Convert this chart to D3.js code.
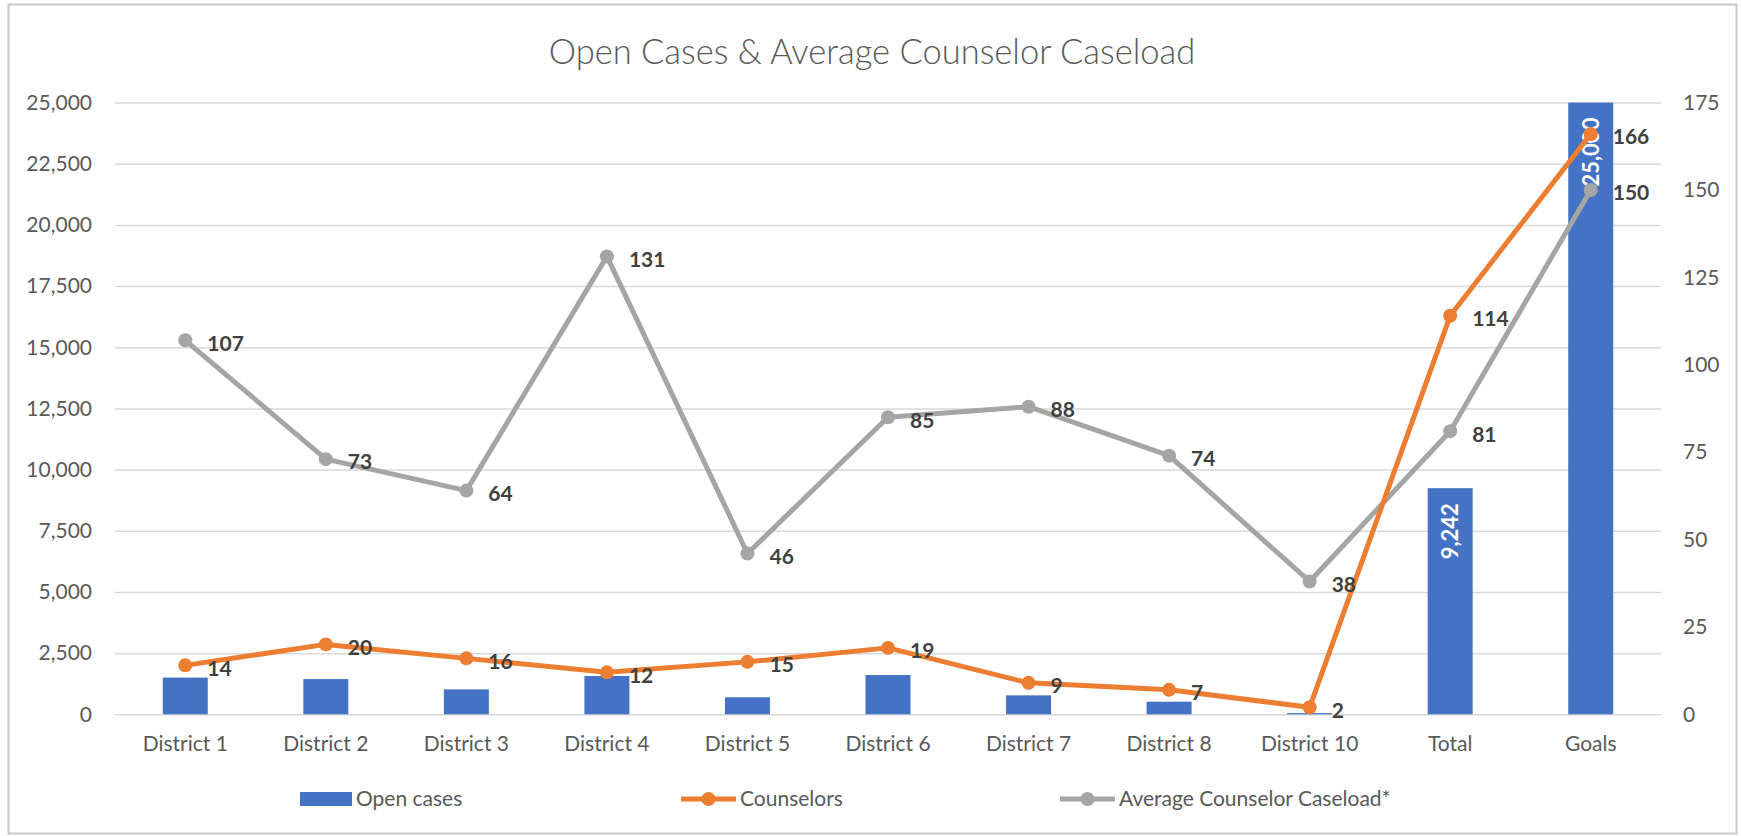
<!DOCTYPE html>
<html>
<head>
<meta charset="utf-8">
<script src="https://cdn.jsdelivr.net/npm/d3@7"></script>
<style>
  body { margin: 0; background: #fff; }
  text { font-family: Lato, "Open Sans", sans-serif; }
</style>
</head>
<body>
<script>
// chart data
var categories = ["District 1", "District 2", "District 3", "District 4", "District 5", "District 6", "District 7", "District 8", "District 10", "Total", "Goals"];
var openCases = [1500, 1440, 1020, 1565, 695, 1605, 775, 515, 50, 9242, 25000];
var counselors = [14, 20, 16, 12, 15, 19, 9, 7, 2, 114, 166];
var caseload = [107, 73, 64, 131, 46, 85, 88, 74, 38, 81, 150];
var leftTicks = [0, 2500, 5000, 7500, 10000, 12500, 15000, 17500, 20000, 22500, 25000];
var rightTicks = [0, 25, 50, 75, 100, 125, 150, 175];
var labeledBars = ["Total", "Goals"];

var w = 1741, h = 836;
var margin = { top: 102.6, bottom: 836 - 714.3, left: 115, right: 1741 - 1661 };

var azul = "#4472C4", naranja = "#ED7D31", gris = "#A5A5A5";
var textoGris = "#595959";
var fuenteEje = 21;

var svg = d3.select("body").append("svg")
    .attr("width", w).attr("height", h);

// marco del grafico
svg.append("rect")
    .attr("x", 8.5).attr("y", 4.5)
    .attr("width", 1728).attr("height", 829)
    .attr("fill", "#fff").attr("stroke", "#C8C8C8").attr("stroke-width", 2);

var x = d3.scaleBand()
    .domain(categories)
    .range([margin.left, w - margin.right])
    .paddingInner(0.68)
    .paddingOuter(0.34);

var yLeft = d3.scaleLinear().domain([0, 25000]).range([h - margin.bottom, margin.top]);
var yRight = d3.scaleLinear().domain([0, 175]).range([h - margin.bottom, margin.top]);

function centro(c) { return x(c) + x.bandwidth() / 2; }

// titulo
svg.append("text")
    .attr("x", 872).attr("y", 64)
    .attr("text-anchor", "middle")
    .attr("font-size", 34.5)
    .attr("font-weight", 300)
    .attr("fill", textoGris)
    .text("Open Cases & Average Counselor Caseload");

// rejilla + eje izquierdo
var ejeIzq = svg.append("g")
    .attr("transform", "translate(" + margin.left + ",0)")
    .call(d3.axisLeft(yLeft).tickValues(leftTicks)
        .tickSize(-(w - margin.left - margin.right))
        .tickPadding(23)
        .tickFormat(d3.format(",")));
ejeIzq.select(".domain").remove();
ejeIzq.selectAll(".tick line").attr("stroke", "#D9D9D9").attr("stroke-width", 1.5);
ejeIzq.selectAll(".tick text").attr("font-size", fuenteEje).attr("fill", textoGris)
    .style("font-family", "Lato, sans-serif");

// eje derecho
var ejeDer = svg.append("g")
    .attr("transform", "translate(" + (w - margin.right) + ",0)")
    .call(d3.axisRight(yRight).tickValues(rightTicks).tickSize(0).tickPadding(22));
ejeDer.select(".domain").remove();
ejeDer.selectAll(".tick text").attr("font-size", fuenteEje).attr("fill", textoGris)
    .style("font-family", "Lato, sans-serif");

// eje x
var ejeX = svg.append("g")
    .attr("transform", "translate(0," + (h - margin.bottom) + ")")
    .call(d3.axisBottom(x).tickSize(0).tickPadding(22));
ejeX.select(".domain").remove();
ejeX.selectAll(".tick text").attr("font-size", fuenteEje).attr("fill", textoGris)
    .style("font-family", "Lato, sans-serif");

// barras
var datosBarras = categories.map(function (c, i) { return { cat: c, v: openCases[i] }; });
svg.selectAll(".barra")
    .data(datosBarras)
    .enter().append("rect")
    .attr("class", "barra")
    .attr("x", function (d) { return x(d.cat); })
    .attr("width", x.bandwidth())
    .attr("y", function (d) { return yLeft(d.v); })
    .attr("height", function (d) { return yLeft(0) - yLeft(d.v); })
    .attr("fill", azul);

// etiquetas de barras (rotadas, blancas)
svg.selectAll(".etiqBarra")
    .data(datosBarras.filter(function (d) { return labeledBars.indexOf(d.cat) >= 0; }))
    .enter().append("text")
    .attr("class", "etiqBarra")
    .attr("transform", function (d) {
        return "translate(" + (centro(d.cat) + 8) + "," + (yLeft(d.v) + 15) + ") rotate(-90)";
    })
    .attr("text-anchor", "end")
    .attr("font-size", 22)
    .attr("font-weight", "bold")
    .attr("fill", "#fff")
    .text(function (d) { return d3.format(",")(d.v); });

// lineas
function pintarSerie(valores, color) {
    var pts = categories.map(function (c, i) { return { cat: c, v: valores[i] }; });
    var linea = d3.line()
        .x(function (d) { return centro(d.cat); })
        .y(function (d) { return yRight(d.v); });
    svg.append("path")
        .datum(pts)
        .attr("d", linea)
        .attr("fill", "none")
        .attr("stroke", color)
        .attr("stroke-width", 5)
        .attr("stroke-linejoin", "round");
    svg.append("g").selectAll("circle")
        .data(pts).enter().append("circle")
        .attr("cx", function (d) { return centro(d.cat); })
        .attr("cy", function (d) { return yRight(d.v); })
        .attr("r", 7)
        .attr("fill", color);
    return pts;
}

var ptsGris = pintarSerie(caseload, gris);
var ptsNaranja = pintarSerie(counselors, naranja);

function pintarEtiquetas(pts) {
    svg.append("g").selectAll("text")
        .data(pts).enter().append("text")
        .attr("x", function (d) { return centro(d.cat) + 22; })
        .attr("y", function (d) { return yRight(d.v) + 3; })
        .attr("dy", "0.35em")
        .attr("font-size", 21)
        .attr("font-weight", "bold")
        .attr("fill", "#404040")
        .text(function (d) { return d.v; });
}
pintarEtiquetas(ptsGris);
pintarEtiquetas(ptsNaranja);

// leyenda
var leyenda = svg.append("g").attr("class", "leyenda");
var yLey = 799;
leyenda.append("rect")
    .attr("x", 300).attr("y", yLey - 7).attr("width", 52).attr("height", 14)
    .attr("fill", azul);
leyenda.append("text").attr("x", 356).attr("y", yLey).attr("dy", "0.35em")
    .attr("font-size", fuenteEje).attr("fill", textoGris).text("Open cases");

[{ x: 681, color: naranja, txt: "Counselors" }, { x: 1060, color: gris, txt: "Average Counselor Caseload*" }]
    .forEach(function (it) {
        leyenda.append("line")
            .attr("x1", it.x).attr("x2", it.x + 55)
            .attr("y1", yLey).attr("y2", yLey)
            .attr("stroke", it.color).attr("stroke-width", 5);
        leyenda.append("circle")
            .attr("cx", it.x + 27.5).attr("cy", yLey).attr("r", 7).attr("fill", it.color);
        leyenda.append("text").attr("x", it.x + 59).attr("y", yLey).attr("dy", "0.35em")
            .attr("font-size", fuenteEje).attr("fill", textoGris).text(it.txt);
    });
</script>
</body>
</html>
